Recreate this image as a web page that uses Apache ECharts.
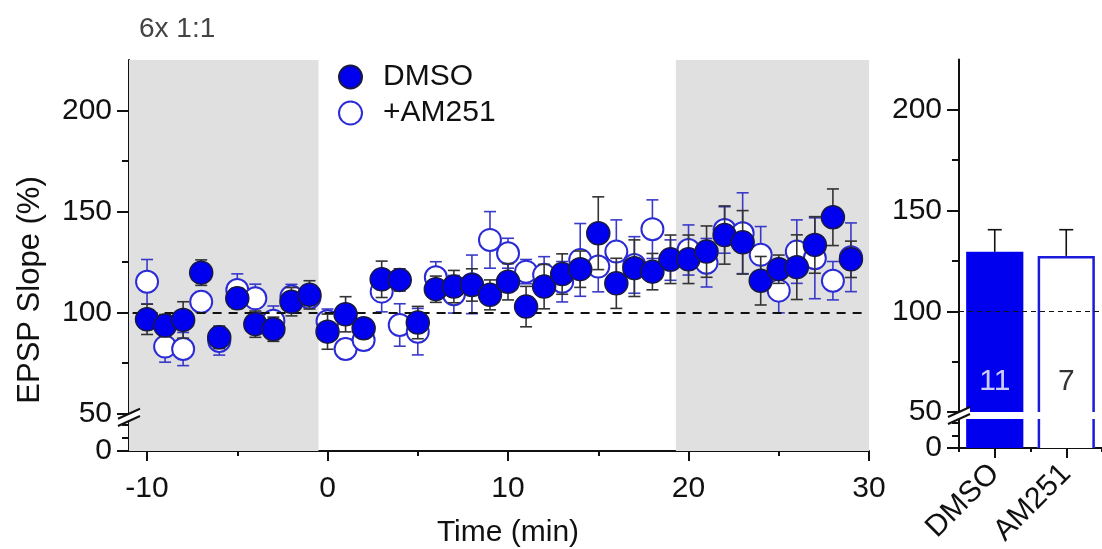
<!DOCTYPE html>
<html><head><meta charset="utf-8">
<script src="https://cdn.jsdelivr.net/npm/echarts@6/dist/echarts.min.js"></script>
<style>html,body{margin:0;padding:0;background:#fff}#c{width:1102px;height:549px}</style>
</head><body><div id="c"></div>
<script>
const times = [-10,-9,-8,-7,-6,-5,-4,-3,-2,-1,0,1,2,3,4,5,6,7,8,9,10,11,12,13,14,15,16,17,18,19,20,21,22,23,24,25,26,27,28,29];
const dmsoMean = [96.7,93.6,96.4,119.8,87.8,107.1,94.3,91.8,105.4,108.8,90.6,99.2,92.3,116.5,116.2,95.1,111.6,112.9,113.7,108.8,115.3,103,112.9,119.1,121.5,139.3,114.5,122,120.3,126.4,126.4,130.2,138.4,134.8,115.8,121.5,122.5,133.5,147.2,126.4];
const dmsoSem = [7.5,5.5,9,6.3,5.6,5,6.5,6,7,7,8.7,8.7,4.5,9,5.5,8,6.5,8,8,7.4,9,10,11,10,9,18,12.4,14,9,12,12,12.7,14.4,15.7,12,7,16,14,14,9];
const am251Mean = [115.3,83.2,82,105.4,86,111.2,107.1,96,108,107.5,95.8,82,86.5,110.4,93.9,90.6,117.5,109.1,114,136,129.4,120.3,118.7,115.3,126.1,122.8,130.2,123.6,141.3,126,131,124.7,140.9,139.3,128.6,110.9,130.2,126.9,115.8,127.4];
const am251Sem = [11,7.7,8.2,5,7,8,7,7.3,6,5,6,5,5,10,10.5,11.5,7.7,9.3,14.5,14,7.4,6,9,10,18,12.5,15.7,14,14.5,10,12.4,12,11.5,20,14,11,15.7,20,9.5,17];
const barCategories = ['DMSO','AM251'];
const barMeans = [129.5,127.5];
const barSems = [11,13];
const barN = ['11','7'];
const xTickLabels = [-10,0,10,20,30];
const xMinorTicks = [-5,5,15,25];
const yTickLabels = [50,100,150,200];
const yMinorTicks = [75,125,175];
const yLowTickLabels = [0];
const yLowMinorTicks = [10,20];
const baselineShade = [-11,-0.5];
const endShade = [19.3,30];
const seriesNames = ['DMSO','+AM251'];
const titleText = '6x 1:1';
const xName = 'Time (min)';
const yName = 'EPSP Slope (%)';

const FONT = 'Liberation Sans, Arial, sans-serif';
const INK = '#111';
const BLUE = '#0000ee';
const OPEN_BLUE = '#2b2bd6';
const ERR_BLUE = '#3a3ac8';
const ERR_BLACK = '#333';
const GRAY = '#e0e0e0';

const chart = echarts.init(document.getElementById('c'));

function errRender(color, upOnly, hw) {
  return function (params, api) {
    const x = api.value(0), m = api.value(1), e = api.value(2);
    const top = api.coord([x, m + e]);
    const mid = api.coord([x, m]);
    const bot = upOnly ? mid : api.coord([x, m - e]);
    const st = {stroke: color, lineWidth: 1.6};
    const ch = [
      {type: 'line', shape: {x1: top[0], y1: top[1], x2: bot[0], y2: bot[1]}, style: st},
      {type: 'line', shape: {x1: top[0] - hw, y1: top[1], x2: top[0] + hw, y2: top[1]}, style: st}
    ];
    if (!upOnly) ch.push({type: 'line', shape: {x1: bot[0] - hw, y1: bot[1], x2: bot[0] + hw, y2: bot[1]}, style: st});
    return {type: 'group', children: ch};
  };
}

const barStyles = [
  {fill: BLUE, stroke: BLUE, lw: 0},
  {fill: '#ffffff', stroke: '#1a1ad8', lw: 2.5}
];
function barRender(params, api) {
  const i = api.value(0), v = api.value(1);
  const cs = params.coordSys;
  const c = api.coord([i, v]);
  const w = api.size([1, 0])[0] * 0.8;
  const bottom = cs.y + cs.height;
  let top = c[1], clipped = false;
  if (top < cs.y) { top = cs.y; clipped = true; }
  const x0 = c[0] - w / 2, x1 = c[0] + w / 2;
  const s = barStyles[params.dataIndex];
  const ch = [{type: 'rect', shape: {x: x0, y: top, width: w, height: bottom - top}, style: {fill: s.fill}}];
  if (s.lw > 0) {
    const h = s.lw / 2;
    const bst = {stroke: s.stroke, lineWidth: s.lw, fill: null};
    if (clipped) {
      ch.push({type: 'line', shape: {x1: x0 + h, y1: top, x2: x0 + h, y2: bottom}, style: bst});
      ch.push({type: 'line', shape: {x1: x1 - h, y1: top, x2: x1 - h, y2: bottom}, style: bst});
    } else {
      ch.push({type: 'polyline', shape: {points: [[x0 + h, bottom], [x0 + h, top + h], [x1 - h, top + h], [x1 - h, bottom]]}, style: bst});
    }
  }
  return {type: 'group', children: ch};
}

const axLine = {show: true, onZero: false, lineStyle: {color: INK, width: 2}};
const lblStyle = {color: INK, fontSize: 30, fontFamily: FONT};

const L = 129, LW = 740;
const R = 959, RW = 152;

const grids = [
  {left: L, top: 60, width: LW, height: 361},
  {left: L, top: 421, width: LW, height: 30},
  {left: R, top: 59.5, width: RW, height: 352.5},
  {left: R, top: 419, width: RW, height: 29}
];

function yPair(grid, min, max, major, minor, labels) {
  return [
    {type: 'value', gridIndex: grid, min: min, max: max, position: 'left',
     axisLine: axLine, splitLine: {show: false},
     axisTick: {show: true, length: 12, customValues: major, lineStyle: {color: INK, width: 2}},
     axisLabel: {show: true, customValues: labels, margin: 17, ...lblStyle}},
    {type: 'value', gridIndex: grid, min: min, max: max, position: 'left',
     axisLine: {show: false, onZero: false}, splitLine: {show: false},
     axisTick: {show: true, length: 7, customValues: minor, lineStyle: {color: INK, width: 2}},
     axisLabel: {show: false}}
  ];
}

const yAxes = [].concat(
  yPair(0, 46.4, 225, yTickLabels, yMinorTicks, yTickLabels),
  yPair(1, 0, 23, yLowTickLabels, yLowMinorTicks, yLowTickLabels),
  yPair(2, 50, 225, yTickLabels, yMinorTicks, yTickLabels),
  yPair(3, 0, 23, yLowTickLabels, yLowMinorTicks, yLowTickLabels)
);

const xAxes = [
  {type: 'value', gridIndex: 0, min: -11, max: 30, show: false},
  {type: 'value', gridIndex: 1, min: -11, max: 30, position: 'bottom', axisLine: axLine, splitLine: {show: false},
   axisTick: {show: true, length: 10, customValues: xTickLabels, lineStyle: {color: INK, width: 2}},
   axisLabel: {customValues: xTickLabels, margin: 23, ...lblStyle}},
  {type: 'value', gridIndex: 1, min: -11, max: 30, position: 'bottom', axisLine: {show: false, onZero: false}, splitLine: {show: false},
   axisTick: {show: true, length: 5, customValues: xMinorTicks, lineStyle: {color: INK, width: 2}},
   axisLabel: {show: false}},
  {type: 'category', gridIndex: 2, data: barCategories, show: false},
  {type: 'category', gridIndex: 3, data: barCategories, position: 'bottom', axisLine: axLine,
   axisTick: {show: true, alignWithLabel: true, length: 10, lineStyle: {color: INK, width: 2}},
   axisLabel: {rotate: 45, margin: 21, ...lblStyle}},
  {type: 'category', gridIndex: 3, data: barCategories, position: 'bottom', axisLine: {show: false, onZero: false},
   axisTick: {show: true, length: 4, lineStyle: {color: INK, width: 2}},
   axisLabel: {show: false}}
];

const shadeAreas = [
  [{xAxis: baselineShade[0]}, {xAxis: baselineShade[1]}],
  [{xAxis: endShade[0]}, {xAxis: endShade[1]}]
];

const dmsoPts = times.map((t, i) => [t, dmsoMean[i]]);
const am251Pts = times.map((t, i) => [t, am251Mean[i]]);
const dmsoErr = times.map((t, i) => [t, dmsoMean[i], dmsoSem[i]]);
const am251Err = times.map((t, i) => [t, am251Mean[i], am251Sem[i]]);
const barData = barMeans.map((v, i) => [i, v]);

const option = {
  animation: false,
  backgroundColor: '#ffffff',
  textStyle: {fontFamily: FONT},
  title: {text: titleText, left: 134, top: 10,
    textStyle: {fontSize: 28, fontWeight: 'normal', color: '#444', fontFamily: FONT}},
  legend: {
    orient: 'vertical', left: 333, top: 57, itemWidth: 23, itemHeight: 23, itemGap: 6,
    data: [{name: seriesNames[0], icon: 'circle'}, {name: seriesNames[1], icon: 'circle'}],
    textStyle: {fontSize: 30, color: INK, fontFamily: FONT, lineHeight: 30, padding: [0, 0, 0, 16]},
    selectedMode: false
  },
  grid: grids,
  xAxis: xAxes,
  yAxis: yAxes,
  series: [
    {type: 'scatter', xAxisIndex: 0, yAxisIndex: 0, data: [], z: 0, silent: true,
     markArea: {silent: true, itemStyle: {color: GRAY}, data: shadeAreas},
     markLine: {silent: true, symbol: 'none', label: {show: false},
       lineStyle: {color: INK, width: 2, type: [9, 7]},
       data: [[{coord: [-10.8, 100]}, {coord: [29.6, 100]}]]}},
    {type: 'scatter', xAxisIndex: 1, yAxisIndex: 2, data: [], z: 0, silent: true,
     markArea: {silent: true, itemStyle: {color: GRAY}, data: shadeAreas}},
    {type: 'custom', name: 'am251err', xAxisIndex: 0, yAxisIndex: 0, z: 2, silent: true,
     renderItem: errRender(ERR_BLUE, false, 6), data: am251Err},
    {type: 'scatter', name: seriesNames[1], xAxisIndex: 0, yAxisIndex: 0, z: 3, symbol: 'circle', symbolSize: 22,
     itemStyle: {color: '#ffffff', borderColor: OPEN_BLUE, borderWidth: 2, opacity: 1}, data: am251Pts},
    {type: 'custom', name: 'dmsoerr', xAxisIndex: 0, yAxisIndex: 0, z: 4, silent: true,
     renderItem: errRender(ERR_BLACK, false, 6), data: dmsoErr},
    {type: 'scatter', name: seriesNames[0], xAxisIndex: 0, yAxisIndex: 0, z: 5, symbol: 'circle', symbolSize: 23,
     itemStyle: {color: BLUE, borderColor: '#1a1a40', borderWidth: 1.5, opacity: 1}, data: dmsoPts},
    {type: 'custom', name: 'barUpper', xAxisIndex: 3, yAxisIndex: 4, z: 2, silent: true,
     renderItem: barRender, data: barData, clip: true,
     markLine: {silent: true, symbol: 'none', label: {show: false}, z: 10,
       lineStyle: {color: INK, width: 1.2, type: [5, 4]}, data: [{yAxis: 100}]}},
    {type: 'custom', name: 'barLower', xAxisIndex: 4, yAxisIndex: 6, z: 2, silent: true,
     renderItem: barRender, data: barData, clip: true},
    {type: 'custom', name: 'barErr', xAxisIndex: 3, yAxisIndex: 4, z: 1, silent: true,
     renderItem: errRender(INK, true, 7), data: barMeans.map((v, i) => [i, v, barSems[i]])},
    {type: 'scatter', name: 'barN', xAxisIndex: 3, yAxisIndex: 4, symbolSize: 0, z: 6,
     data: barN.map((n, i) => ({value: [i, 65], label: {show: true, position: 'inside', formatter: n,
       fontSize: 30, fontFamily: FONT, color: i === 0 ? '#ffffff' : '#000000'}}))}
  ]
};
chart.setOption(option);

const gr = [];
function addBreak(x, yTop, yBot) {
  const dx = 11, dy = 5;
  gr.push({type: 'polygon', z: 100, shape: {points: [[x - dx, yTop + dy], [x + dx, yTop - dy], [x + dx, yBot - dy], [x - dx, yBot + dy]]},
    style: {fill: '#ffffff'}});
  gr.push({type: 'line', z: 101, shape: {x1: x - dx, y1: yTop + dy, x2: x + dx, y2: yTop - dy}, style: {stroke: INK, lineWidth: 2}});
  gr.push({type: 'line', z: 101, shape: {x1: x - dx, y1: yBot + dy, x2: x + dx, y2: yBot - dy}, style: {stroke: INK, lineWidth: 2}});
}
const lp = chart.convertToPixel({gridIndex: 0}, [-11, 50]);
const lq = chart.convertToPixel({gridIndex: 1}, [-11, 23]);
addBreak(lp[0], lp[1], lq[1]);
const rp = chart.convertToPixel({gridIndex: 2}, ['DMSO', 50]);
const rq = chart.convertToPixel({gridIndex: 3}, ['DMSO', 23]);
addBreak(R, rp[1], rq[1]);
gr.push({type: 'text', z: 50, x: 30, y: 290, rotation: Math.PI / 2,
  style: {text: yName, fontSize: 31, fontFamily: FONT, fill: INK, align: 'center', verticalAlign: 'middle'}});
gr.push({type: 'text', z: 50, x: 508, y: 533,
  style: {text: xName, fontSize: 30, fontFamily: FONT, fill: INK, align: 'center', verticalAlign: 'middle'}});
chart.setOption({graphic: gr});
</script>
</body></html>
